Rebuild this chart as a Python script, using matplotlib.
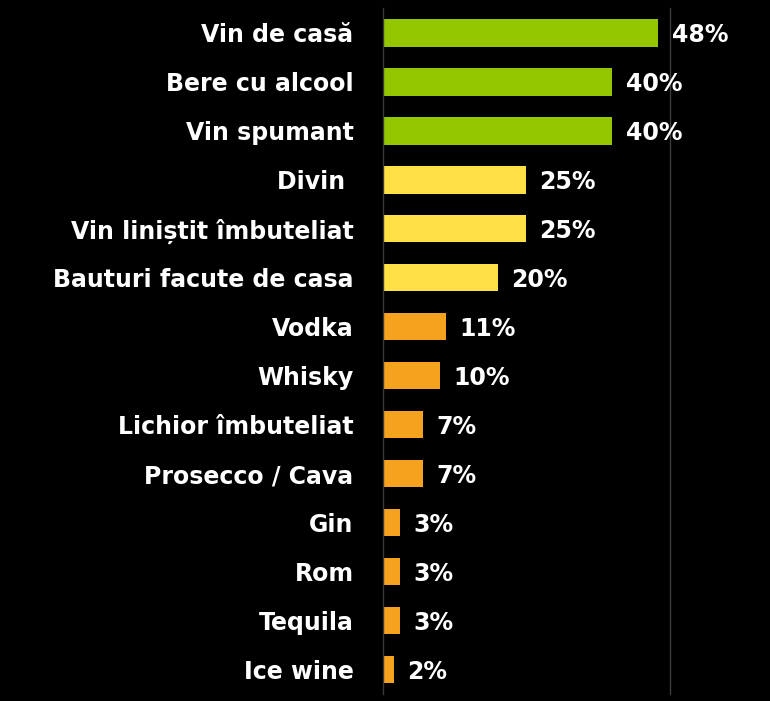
import matplotlib.pyplot as plt

categories = ["Vin de casă", "Bere cu alcool", "Vin spumant", "Divin ", "Vin liniștit îmbuteliat",
              "Bauturi facute de casa", "Vodka", "Whisky", "Lichior îmbuteliat", "Prosecco / Cava",
              "Gin", "Rom", "Tequila", "Ice wine"]
values = [48, 40, 40, 25, 25, 20, 11, 10, 7, 7, 3, 3, 3, 2]
groups = ["top"] * 3 + ["mid"] * 3 + ["low"] * 8

colors = {"top": "#94C600", "mid": "#FFE045", "low": "#F5A21F"}

plt.rcParams['font.family'] = ['DejaVu Sans']

fig = plt.figure(figsize=(7.7, 7.01), dpi=100, facecolor="black")
ax = fig.add_axes([0.497, 0.01, 0.373, 0.978], facecolor="black")

ypos = list(range(len(categories)))
ax.barh(ypos, values, height=0.56, color=[colors[g] for g in groups])
for y, v in zip(ypos, values):
    ax.text(v + 2.3, y + 0.05, f"{v}%", va="center", ha="left", color="white",
            fontsize=17, fontweight="bold")

ax.set_xlim(0, 50)
ax.set_ylim(len(categories) - 0.5, -0.5)
ax.set_yticks(ypos)
ax.set_yticklabels(categories, color="white", fontsize=17, fontweight="bold")
ax.tick_params(axis="y", length=0, pad=21)
ax.set_xticks([])
for side in ["top", "bottom"]:
    ax.spines[side].set_visible(False)
ax.spines["left"].set_color("#3a3a3a")
ax.spines["right"].set_color("#3a3a3a")
ax.spines["left"].set_linewidth(1)
ax.spines["right"].set_linewidth(1)

fig.savefig("out.png", dpi=100, facecolor="black")
